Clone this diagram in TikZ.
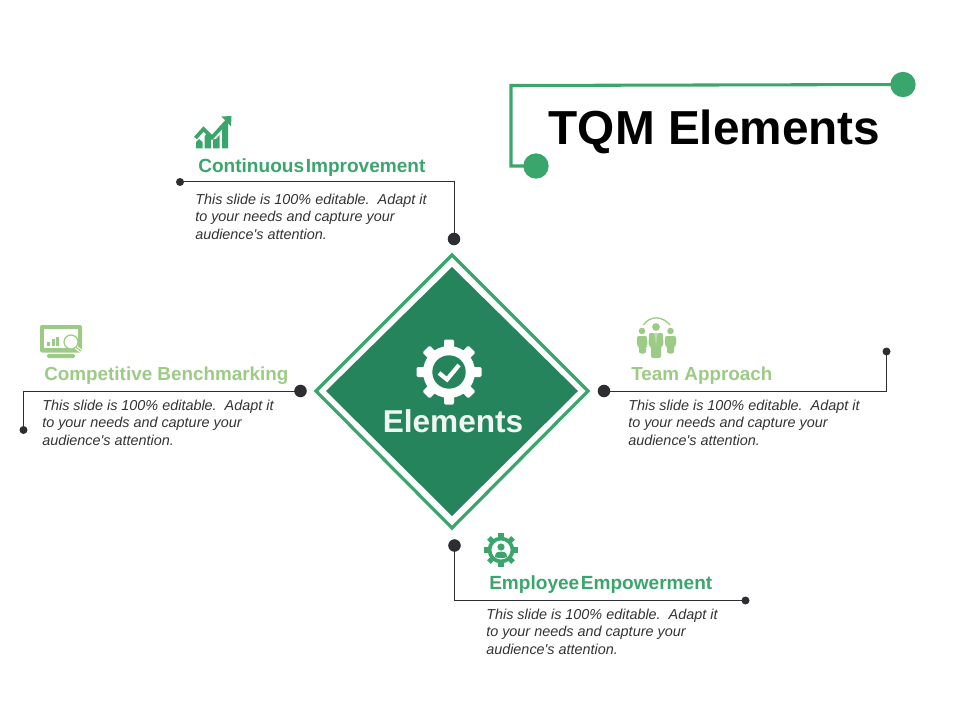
\documentclass[tikz,border=0pt]{standalone}
\usepackage{fontspec}
\setmainfont{Liberation Sans}
\newfontfamily\plainfont{Liberation Sans}
\definecolor{dkgreen}{HTML}{3AA66C}
\definecolor{ltgreen}{HTML}{9CCB86}
\definecolor{diagreen}{HTML}{25845C}
\definecolor{linecol}{HTML}{2D2D32}
\definecolor{bodycol}{HTML}{333333}
\newcommand{\slidetext}{This slide is 100\% editable.\ \ Adapt it\\to your needs and capture your\\audience's attention.}
\newcommand{\tightwords}{\spaceskip 1.2pt\relax}
\tikzset{
  bigdot/.style={circle,fill=linecol,draw=none,inner sep=0pt,minimum size=9.4pt},
  smalldot/.style={circle,fill=linecol,draw=none,inner sep=0pt,minimum size=6pt},
  titledot/.style={circle,fill=dkgreen,draw=none,inner sep=0pt,minimum size=19pt},
  conn/.style={draw=linecol,line width=0.75pt},
  bodytext/.style={anchor=west,align=left,inner sep=0pt,text=bodycol,font=\plainfont\fontsize{10.8pt}{13.1pt}\selectfont\itshape},
  headdk/.style={anchor=west,inner sep=0pt,text=dkgreen,font=\bfseries\fontsize{14.3pt}{16pt}\selectfont\tightwords},
  headlt/.style={anchor=west,inner sep=0pt,text=ltgreen,font=\bfseries\fontsize{14.15pt}{16pt}\selectfont},
}
\begin{document}
\begin{tikzpicture}[x=0.75pt,y=-0.75pt]
\useasboundingbox (0,0) rectangle (960,720);
% title
\node[titledot] (t1) at (903,84.5) {};
\node[titledot] (t2) at (536,166) {};
\coordinate (tc) at (511,85.5);
\draw[dkgreen,line width=2.3pt] (t1.center) -- (tc) |- (t2.center);
\node[inner sep=0pt,font=\bfseries\fontsize{35.8pt}{40pt}\selectfont] (title) at (714.5,132) {TQM Elements};
% central diamond
\draw[dkgreen,line width=2.4pt,line join=miter] (452,255) -- (588,391) -- (452,528) -- (316,391) -- cycle;
\fill[diagreen] (452,267) -- (578,391) -- (452,516) -- (326,391) -- cycle;
% central gear
\begin{scope}[shift={(449,372)}]
  \foreach \a in {0,45,...,315}{
    \fill[white,rotate=\a,rounded corners=1pt] (-5,-32.5) rectangle (5,-20);
  }
  \fill[white] (0,0) circle[radius=26];
  \fill[diagreen] (0,0) circle[radius=16.7];
  \draw[white,line width=3.2pt] (-10,1) -- (-2,7.5) -- (10,-7);
\end{scope}
\node[inner sep=0pt,text=white!92!diagreen,font=\bfseries\fontsize{23.7pt}{26pt}\selectfont] (elem) at (453,421) {Elements};
% connectors
\node[bigdot] (a1) at (454,239) {};
\node[smalldot] (a2) at (180,182) {};
\draw[conn] (a2.center) -| (a1.center);
\node[bigdot] (b1) at (300.5,391) {};
\node[smalldot] (b2) at (23.5,430) {};
\draw[conn] (b1.center) -| (b2.center);
\node[bigdot] (c1) at (604,391) {};
\node[smalldot] (c2) at (886.5,351.5) {};
\draw[conn] (c1.center) -| (c2.center);
\node[bigdot] (d1) at (454.5,545.5) {};
\node[smalldot] (d2) at (745.5,600.5) {};
\draw[conn] (d1.center) |- (d2.center);
% headings
\node[headdk] (h1) at (198,168) {Continuous Improvement};
\node[headlt] (h2) at (44,376) {Competitive Benchmarking};
\node[headlt] (h3) at (631,376) {Team Approach};
\node[headdk] (h4) at (489,585) {Employee Empowerment};
% body text
\node[bodytext] (p1) at (195,216.6) {\slidetext};
\node[bodytext] (p2) at (42,422.6) {\slidetext};
\node[bodytext] (p3) at (628,422.6) {\slidetext};
\node[bodytext] (p4) at (486,631.6) {\slidetext};
% chart icon
\fill[dkgreen] (196,148.5) -- (196,142) -- (199,139) -- (202.5,142) -- (202.5,148.5) -- cycle;
\fill[dkgreen] (204.5,148.5) -- (204.5,136) -- (207,133.5) -- (211,138) -- (211,148.5) -- cycle;
\fill[dkgreen] (213,148.5) -- (213,139.5) -- (216,139) -- (219.5,135) -- (219.5,148.5) -- cycle;
\fill[dkgreen] (222,148.5) -- (222,128) -- (228,122) -- (228,148.5) -- cycle;
\draw[dkgreen,line width=2.8pt,line join=miter] (195.5,138) -- (203.5,129) -- (212,137.5) -- (227,121);
\fill[dkgreen] (221.5,116.5) -- (231.5,116) -- (231,126.5) -- cycle;
% monitor icon
\fill[ltgreen,rounded corners=1.5pt] (40,325) rectangle (82,352.5);
\fill[white] (44,329) rectangle (78,348);
\fill[ltgreen] (47,342) rectangle (50,346);
\fill[ltgreen] (52,339) rectangle (54.5,346);
\fill[ltgreen] (56,336.5) rectangle (59,346);
\fill[ltgreen,rounded corners=1pt] (47,354) rectangle (75,358);
\draw[white,line width=2.6pt] (75.5,347) -- (82,352);
\draw[ltgreen,line width=0.8pt] (75.5,347) -- (81,351);
\draw[ltgreen,line width=0.9pt,fill=white] (71,342) circle[radius=7];
% team icon
\draw[ltgreen,line width=1pt] (643.5,325) .. controls (650,315.5) and (662,315.5) .. (670,325);
\fill[ltgreen] (656,327) circle[radius=3.9];
\fill[ltgreen] (642,331) circle[radius=3.3];
\fill[ltgreen] (670.5,331) circle[radius=3.3];
\fill[ltgreen,rounded corners=1.5pt] (637,336) -- (647,336) -- (647.5,346) -- (646,346) -- (646,353.5) -- (639,353.5) -- (639,346) -- (637,346) -- cycle;
\fill[ltgreen,rounded corners=1.5pt] (665,336) -- (676,336) -- (676,346) -- (674,346) -- (674,353.5) -- (667,353.5) -- (667,346) -- (665,346) -- cycle;
\fill[ltgreen,rounded corners=1.5pt] (649,333) -- (663,333) -- (663.5,346) -- (661,346) -- (661,358) -- (651,358) -- (651,346) -- (648.5,346) -- cycle;
\fill[white] (654.5,333) -- (657.5,333) -- (656,343) -- cycle;
\fill[ltgreen] (655.3,333) -- (656.7,333) -- (656.5,340) -- (655.5,340) -- cycle;
% employee gear icon
\begin{scope}[shift={(501,550)}]
  \foreach \a in {0,45,...,315}{
    \fill[dkgreen,rotate=\a] (-2.6,-17) rectangle (2.6,-12);
  }
  \draw[dkgreen,line width=2.8pt] (0,0) circle[radius=11.5];
  \fill[dkgreen] (0,-3) circle[radius=3.6];
  \fill[dkgreen] (-6,7) .. controls (-6,2) and (-3,1.5) .. (0,1.5) .. controls (3,1.5) and (6,2) .. (6,7) .. controls (3,8.5) and (-3,8.5) .. (-6,7) -- cycle;
\end{scope}
\end{tikzpicture}
\end{document}
